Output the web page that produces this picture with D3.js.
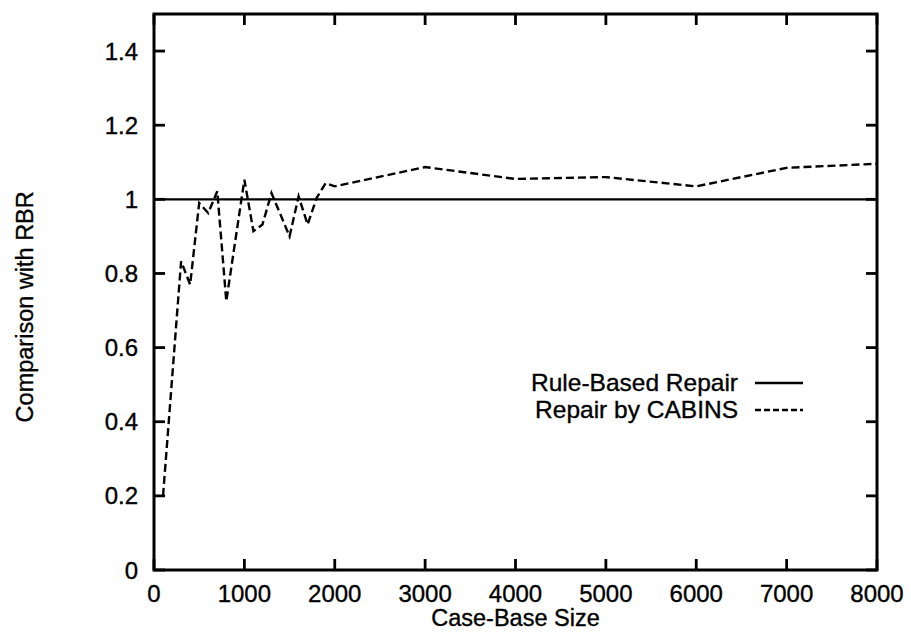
<!DOCTYPE html>
<html>
  <head>
    <meta charset="utf-8">
    <title>Comparison with RBR</title>
    <script src="https://d3js.org/d3.v7.min.js"></script>
    <style>
      body { margin: 0; background: #fff; }
      svg { font-family: "Liberation Sans", Arial, sans-serif; }
      text { fill: #000; stroke: #000; stroke-width: 0.35px; }
      .tickLabel { font-size: 24px; }
      .axisLabel { font-size: 23.5px; }
      .legendLabel { font-size: 24.5px; }
      .frame { fill: none; stroke: #000; stroke-width: 3; }
      .tick { stroke: #000; stroke-width: 2.8; }
      .plot { fill: none; stroke: #000; stroke-width: 2.4; }
      #cabins { stroke-dasharray: 8 4; }
    </style>
  </head>
  <body>
    <svg id="chart" width="911" height="632"></svg>
    <script>
      // data
      caseBaseSize = [100, 300, 400, 500, 600, 700, 800, 1000, 1100, 1200, 1300, 1500, 1600, 1700, 1800, 1900, 2000, 3000, 4000, 5000, 6000, 7000, 8000];
      cabinsRatio = [0.2, 0.833, 0.77, 0.99, 0.963, 1.022, 0.725, 1.053, 0.914, 0.932, 1.017, 0.9, 1.008, 0.932, 1.004, 1.044, 1.035, 1.087, 1.055, 1.06, 1.035, 1.085, 1.096];
      rbrSize = [0, 8000];
      rbrRatio = [1, 1];
      xTicks = [0, 1000, 2000, 3000, 4000, 5000, 6000, 7000, 8000];
      yTicks = [0, 0.2, 0.4, 0.6, 0.8, 1, 1.2, 1.4];
      legendNames = ["Rule-Based Repair", "Repair by CABINS"];

      chart = d3.select("#chart");
      margin = { top: 14, right: 34, bottom: 62, left: 154 };
      width = 911;
      height = 632;
      tickLen = 11;

      x = d3.scaleLinear()
        .domain([0, 8000])
        .range([margin.left, width - margin.right]);
      y = d3.scaleLinear()
        .domain([0, 1.5])
        .range([height - margin.bottom, margin.top]);

      // ticks, mirrored on all four sides (gnuplot style)
      tickGroup = chart.append("g");
      xTicks.forEach(function(t) {
        tickGroup.append("line").attr("class", "tick")
          .attr("x1", x(t)).attr("x2", x(t))
          .attr("y1", y(0)).attr("y2", y(0) - tickLen);
        tickGroup.append("line").attr("class", "tick")
          .attr("x1", x(t)).attr("x2", x(t))
          .attr("y1", y(1.5)).attr("y2", y(1.5) + tickLen);
        chart.append("text").attr("class", "tickLabel")
          .attr("x", x(t)).attr("y", y(0) + 32)
          .attr("text-anchor", "middle")
          .text(t);
      });
      yTicks.forEach(function(t) {
        tickGroup.append("line").attr("class", "tick")
          .attr("x1", x(0)).attr("x2", x(0) + tickLen)
          .attr("y1", y(t)).attr("y2", y(t));
        tickGroup.append("line").attr("class", "tick")
          .attr("x1", x(8000)).attr("x2", x(8000) - tickLen)
          .attr("y1", y(t)).attr("y2", y(t));
        chart.append("text").attr("class", "tickLabel")
          .attr("x", x(0) - 16).attr("y", y(t) + 8.5)
          .attr("text-anchor", "end")
          .text(t);
      });

      // plot frame
      chart.append("rect").attr("class", "frame")
        .attr("x", x(0)).attr("y", y(1.5))
        .attr("width", x(8000) - x(0))
        .attr("height", y(0) - y(1.5));

      // series
      line = d3.line()
        .x(function(d) { return x(d[0]); })
        .y(function(d) { return y(d[1]); });
      chart.append("path").attr("class", "plot").attr("id", "rbr")
        .attr("d", line(d3.zip(rbrSize, rbrRatio)));
      chart.append("path").attr("class", "plot").attr("id", "cabins")
        .attr("d", line(d3.zip(caseBaseSize, cabinsRatio)));

      // axis titles
      chart.append("text").attr("class", "axisLabel")
        .attr("x", (x(0) + x(8000)) / 2).attr("y", 626)
        .attr("text-anchor", "middle")
        .text("Case-Base Size");
      chart.append("text").attr("class", "axisLabel")
        .attr("transform", "translate(33, " + y(0.71) + ") rotate(-90)")
        .attr("text-anchor", "middle")
        .text("Comparison with RBR");

      // legend
      legend = chart.append("g").attr("transform", "translate(738, 383)");
      legendNames.forEach(function(name, i) {
        legend.append("text").attr("class", "legendLabel")
          .attr("x", 0).attr("y", i * 27 + 8)
          .attr("text-anchor", "end")
          .text(name);
        legend.append("line").attr("class", "plot")
          .attr("x1", 17).attr("x2", 65)
          .attr("y1", i * 27).attr("y2", i * 27)
          .style("stroke-dasharray", i === 0 ? null : "6 3");
      });
    </script>
  </body>
</html>
